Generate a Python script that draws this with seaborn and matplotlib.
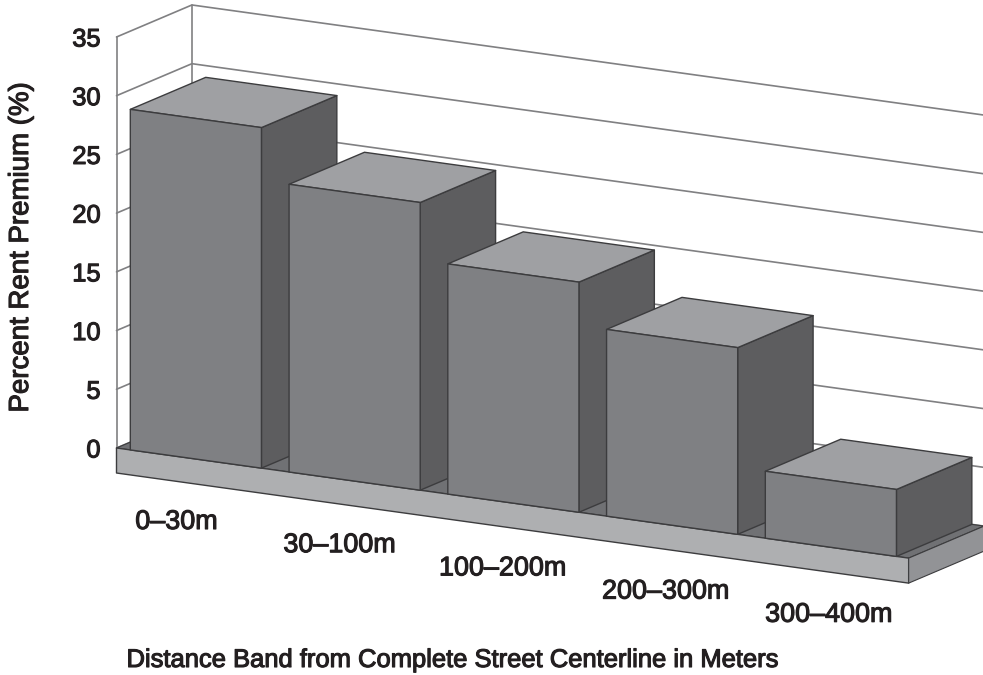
import matplotlib
matplotlib.use("Agg")
import matplotlib.pyplot as plt
import matplotlib.patheffects as pe
from matplotlib.patches import Polygon
from matplotlib.transforms import Affine2D
import pandas as pd
import seaborn as sns

bands = ["0–30m", "30–100m", "100–200m", "200–300m", "300–400m"]
premium = [29.0, 24.5, 19.6, 15.9, 5.7]
y_ticks = [0, 5, 10, 15, 20, 25, 30, 35]

W, H = 983, 675
LEFT, RIGHT, TOP, BOTTOM = 116.5, 983, 37, 448
PITCH = 158.75
SHEAR = 0.139
BAR_W = 0.826
DX, DY = 0.475, 3.62        # depth vector in data units
PLATE = 2.13                # plate thickness in value units
TXT = "#231f20"
EDGE = "#3c3c3e"
GRID = "#808082"
FRONT, SIDE, TOPC = "#7f8083", "#5d5d5f", "#9fa0a3"

sns.set_theme(style="white")
plt.rcParams["font.family"] = ["Liberation Sans", "DejaVu Sans"]

fig = plt.figure(figsize=(W / 100, H / 100), dpi=100)
ax = fig.add_axes([LEFT / W, 1 - BOTTOM / H, (RIGHT - LEFT) / W, (BOTTOM - TOP) / H])

df = pd.DataFrame({"band": bands, "premium": premium})
sns.barplot(data=df, x="band", y="premium", color=FRONT, saturation=1, width=BAR_W,
            edgecolor=EDGE, linewidth=1.0, ax=ax)

xmin, xmax = -0.5, -0.5 + (RIGHT - LEFT) / PITCH
ax.set_xlim(xmin, xmax)
ax.set_ylim(0, 35)

shear = Affine2D.from_values(1, -SHEAR, 0, 1, 0, SHEAR * LEFT)
tr = ax.transData + shear


def poly(pts, fc, z, ec=EDGE, lw=1.0):
    ax.add_patch(Polygon(pts, closed=True, fc=fc, ec=ec, lw=lw, transform=tr,
                         zorder=z, clip_on=False, joinstyle="round"))


def line(xs, ys, z=1):
    ax.plot(xs, ys, color=GRID, lw=1.2, transform=tr, zorder=z, clip_on=False,
            solid_capstyle="round")


# walls
for v in y_ticks:
    line([xmin, xmin + DX, 5.2], [v, v + DY, v + DY])
line([xmin + DX, xmin + DX], [DY, 35 + DY])

# plate
px_l, px_r = -0.5, 4.49
poly([(px_l, 0), (px_r, 0), (px_r + DX, DY), (px_l + DX, DY)], "#707174", 3, lw=0.8)
poly([(px_l, 0), (px_r, 0), (px_r, -PLATE), (px_l, -PLATE)], "#aeafb1", 4)
poly([(px_r, 0), (px_r + DX, DY), (px_r + DX, DY - PLATE), (px_r, -PLATE)], "#929396", 4, lw=0.8)

# bars: seaborn's rectangles sheared, with side and top faces built from them
for i, bar in enumerate(ax.patches[:len(bands)]):
    x0, x1 = bar.get_x(), bar.get_x() + bar.get_width()
    h = bar.get_height()
    z = 10 + i
    bar.set_transform(tr)
    bar.set_clip_on(False)
    bar.set_zorder(z + 0.2)
    poly([(x1, 0), (x1 + DX, DY), (x1 + DX, h + DY), (x1, h)], SIDE, z)
    poly([(x0, h), (x1, h), (x1 + DX, h + DY), (x0 + DX, h + DY)], TOPC, z + 0.1)

# axes furniture
for s in ["top", "right", "bottom"]:
    ax.spines[s].set_visible(False)
ax.spines["left"].set_visible(True)
ax.spines["left"].set_color(GRID)
ax.spines["left"].set_linewidth(1.2)
ax.spines["left"].set_zorder(2)
ax.patch.set_visible(False)

stroke = [pe.withStroke(linewidth=0.8, foreground=TXT)]
ax.set_yticks(y_ticks)
ax.tick_params(axis="y", length=0, pad=11.5, labelsize=18.3, labelcolor=TXT)
ax.tick_params(axis="x", length=0, labelsize=19.4, labelcolor=TXT)
ax.set_xticks([i - 0.123 + 0.027 * i for i in range(len(bands))], bands)
for i, t in enumerate(ax.xaxis.get_major_ticks()):
    t.set_pad((61 + 23.2 * i) * 0.72)
for lab in ax.get_xticklabels() + ax.get_yticklabels():
    lab.set_path_effects(stroke)

ax.set_xlabel("Distance Band from Complete Street Centerline in Meters",
              fontsize=18.4, color=TXT, path_effects=stroke, va="center")
ax.xaxis.set_label_coords((452 - LEFT) / (RIGHT - LEFT), (BOTTOM - 660) / (BOTTOM - TOP))
ax.set_ylabel("Percent Rent Premium (%)", fontsize=19.9, color=TXT, path_effects=stroke, va="center")
ax.yaxis.set_label_coords((21 - LEFT) / (RIGHT - LEFT), (BOTTOM - 248) / (BOTTOM - TOP))

fig.savefig("out.png", dpi=100, facecolor="white")
